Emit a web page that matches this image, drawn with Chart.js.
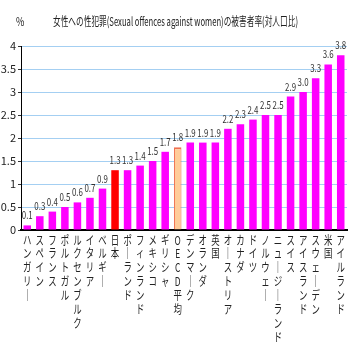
<!DOCTYPE html>
<html>
<head>
<meta charset="utf-8">
<script src="https://cdn.jsdelivr.net/npm/chart.js@4"></script>
<style>
  body { margin: 0; background: #fff; }
  #wrap { width: 349px; height: 349px; }
</style>
</head>
<body>
<div id="wrap"><canvas id="myChart" width="349" height="349"></canvas></div>
<script>
const countries = ['ハンガリー', 'スペイン', 'フランス', 'ポルトガル', 'ルクセンブルク', 'イタリア', 'ベルギー', '日本', 'ポーランド', 'フィンランド', 'メキシコ', 'ギリシャ', 'OECD平均', 'デンマーク', 'オランダ', '英国', 'オーストリア', 'カナダ', 'ドイツ', 'ノルウェー', 'ニュージーランド', 'スイス', 'アイスランド', 'スウェーデン', '米国', 'アイルランド'];
const rates = [0.1, 0.3, 0.4, 0.5, 0.6, 0.7, 0.9, 1.3, 1.3, 1.4, 1.5, 1.7, 1.8, 1.9, 1.9, 1.9, 2.2, 2.3, 2.4, 2.5, 2.5, 2.9, 3.0, 3.3, 3.6, 3.8];
const yTicks = [0, 0.5, 1, 1.5, 2, 2.5, 3, 3.5, 4];
const titleText = '女性への性犯罪(Sexual offences against women)の被害者率(対人口比)';

const FONT = '"Noto Sans CJK JP", "DejaVu Sans", sans-serif';

// bar colours: Japan red, OECD average peach, rest magenta
const fills = countries.map(c => c == '日本' ? '#FF0000' : (c == 'OECD平均' ? '#FFCC99' : '#FF00FF'));
const borders = countries.map(c => c == 'OECD平均' ? { top: 2, left: 1, right: 1, bottom: 0 } : 0);

// condensed text helper (the original uses a narrow font)
function narrowText(c, txt, x, y, sx) {
  c.save();
  c.translate(x, y);
  c.scale(sx, 1);
  c.fillText(txt, 0, 0);
  c.restore();
}

const extras = {
  id: 'extras',
  afterDatasetsDraw(chart) {
    const c = chart.ctx;
    const meta = chart.getDatasetMeta(0);
    c.save();
    c.fillStyle = '#333';
    c.font = '11px ' + FONT;
    c.textAlign = 'center';
    c.textBaseline = 'alphabetic';
    meta.data.forEach((bar, i) => {
      narrowText(c, rates[i].toFixed(1), bar.x, bar.y - 6, 0.72);
    });

    // category labels, written vertically
    const xs = chart.scales.x;
    const top = xs.top + 4;
    c.fillStyle = '#222';
    c.font = '12px ' + FONT;
    c.textBaseline = 'top';
    countries.forEach((name, i) => {
      const x = xs.getPixelForValue(i);
      name.split('').forEach((ch, j) => {
        narrowText(c, ch == 'ー' ? '｜' : ch, x, top + j * 13.9, 0.7);
      });
    });
    c.restore();
  },
  afterDraw(chart) {
    const c = chart.ctx;
    c.save();
    c.fillStyle = '#222';
    c.font = '12px ' + FONT;
    c.textBaseline = 'middle';
    c.textAlign = 'left';
    narrowText(c, '%', 16, 21, 0.75);
    const w = c.measureText(titleText).width;
    c.textAlign = 'center';
    narrowText(c, titleText, 175.5, 21, 245 / w);
    c.restore();
  }
};

const ctx = document.getElementById('myChart');

new Chart(ctx, {
  type: 'bar',
  data: {
    labels: countries,
    datasets: [{
      data: rates,
      backgroundColor: fills,
      borderColor: '#F07050',
      borderWidth: borders,
      borderSkipped: false,
      barPercentage: 0.6,
      categoryPercentage: 1
    }]
  },
  plugins: [extras],
  options: {
    responsive: false,
    animation: false,
    layout: { padding: { top: 46, left: 0, right: 2, bottom: 0 } },
    plugins: {
      legend: { display: false },
      tooltip: { enabled: false },
      title: { display: false }
    },
    scales: {
      x: {
        grid: { display: false, drawTicks: false },
        border: { color: '#000', width: 2 },
        ticks: { display: false },
        afterFit: s => { s.height = 119; }
      },
      y: {
        min: 0,
        max: 4,
        afterBuildTicks: s => { s.ticks = yTicks.map(v => ({ value: v })); },
        grid: { color: '#A4CFF2', lineWidth: 1, tickColor: '#333', tickLength: 3 },
        border: { color: '#000', width: 1 },
        ticks: {
          color: '#222',
          padding: 2,
          font: { family: FONT, size: 11 },
          callback: v => String(v)
        },
        afterFit: s => { s.width = 21; }
      }
    }
  }
});
</script>
</body>
</html>
